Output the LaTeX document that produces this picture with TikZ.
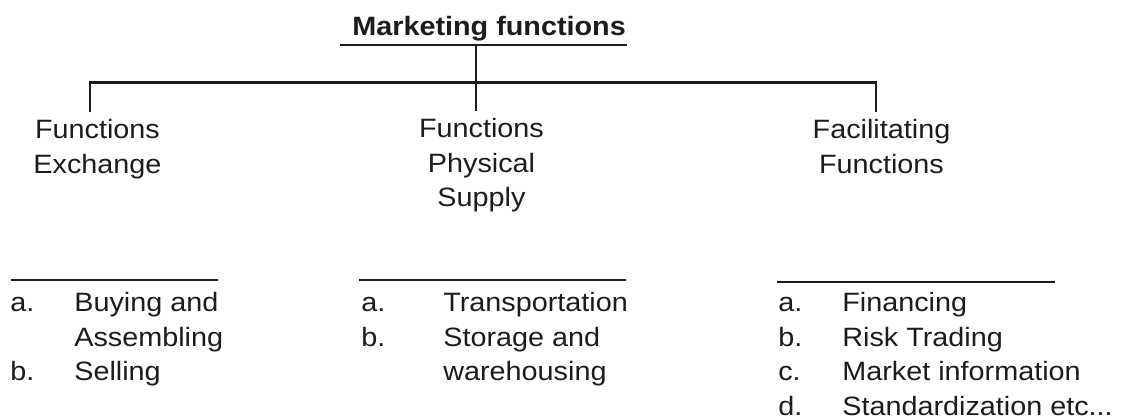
\documentclass[tikz,border=0pt]{standalone}
\usepackage{fontspec}
\setmainfont{Liberation Sans}[FakeStretch=1.085]
\definecolor{ink}{RGB}{30,27,28}
\tikzset{
  conn/.style={draw=ink, line width=1.35pt},
  lbl/.style={text=ink, font=\fontsize{15.1pt}{19.6pt}\selectfont, inner sep=0pt},
  head/.style={lbl, align=center, anchor=north, inner ysep=4pt},
  entry/.style={lbl, anchor=base west},
}
\begin{document}
\begin{tikzpicture}[x=0.02cm,y=-0.02cm]
\useasboundingbox (0,0) rectangle (1127,419);

\node (title) at (352,35.7) [lbl,anchor=base west,font=\fontsize{15.1pt}{19.6pt}\selectfont\bfseries]{Marketing functions};
\draw[conn] (340,45) -- (627,45);

\node (exch) at (97.5,112) [head]{Functions\\Exchange};
\node (phys) at (481.5,111) [head]{Functions\\Physical\\Supply};
\node (facil) at (881.5,112) [head]{Facilitating\\Functions};

\coordinate (hub) at (476,45);
\coordinate (barL) at (90,82.5);
\coordinate (barR) at (876,82.5);
\draw[conn] (hub) -- (hub |- phys.north);
\draw[conn] (barL |- exch.north) -- (barL) -- (barR) -- (barR |- facil.north);

\draw[conn] (10.7,280) -- (218,280);
\draw[conn] (359,280) -- (626,280);
\draw[conn] (777,282) -- (1055,282);

\node (exchA) at (10,311) [entry]{a.};
\node (buying) at (74,311) [entry]{Buying and};
\node (assembling) at (74,346) [entry]{Assembling};
\node (exchB) at (10,380.7) [entry]{b.};
\node (selling) at (74,380.7) [entry]{Selling};

\node (physA) at (361,311) [entry]{a.};
\node (transport) at (443,311) [entry]{Transportation};
\node (physB) at (361,346) [entry]{b.};
\node (storage) at (443,346) [entry]{Storage and};
\node (warehouse) at (443,380.5) [entry]{warehousing};

\node (facA) at (778,311) [entry]{a.};
\node (financing) at (842,311) [entry]{Financing};
\node (facB) at (778,346) [entry]{b.};
\node (risk) at (842,346) [entry]{Risk Trading};
\node (facC) at (778,380.5) [entry]{c.};
\node (marketinfo) at (842,380.5) [entry]{Market information};
\node (facD) at (778,415) [entry]{d.};
\node (standard) at (842,415) [entry]{Standardization etc...};
\end{tikzpicture}
\end{document}
